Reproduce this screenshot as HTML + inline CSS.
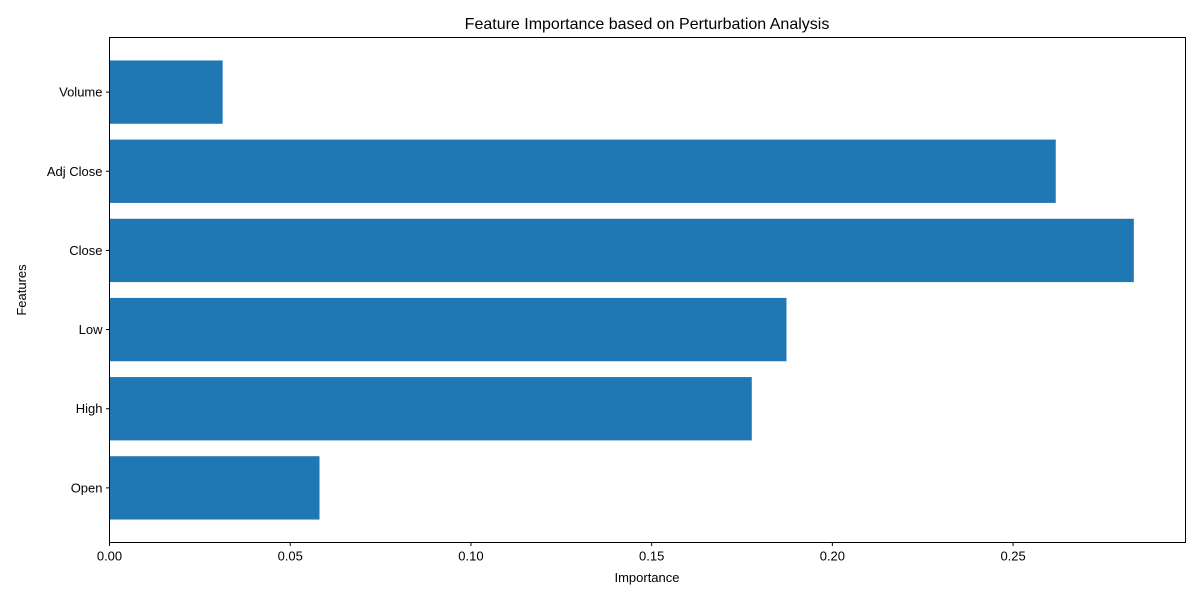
<!DOCTYPE html>
<html><head><meta charset="utf-8"><style>
body{margin:0;background:#fff;}
svg text{font-family:"Liberation Sans","DejaVu Sans",sans-serif;fill:#000;}
</style></head><body>
<svg id="chart" width="1200" height="600">
<rect width="1200" height="600" fill="#fff"/>
<text x="647" y="29" font-size="16" text-anchor="middle">Feature Importance based on Perturbation Analysis</text>
<g id="bars"></g>
<g id="xticks"></g>
<g id="yticks"></g>
<rect x="109.5" y="37.5" width="1076" height="505" fill="none" stroke="#000" stroke-width="1"/>
<text x="647" y="582" font-size="13" text-anchor="middle">Importance</text>
<text x="26" y="290" font-size="13" text-anchor="middle" transform="rotate(-90 26 290)">Features</text>
</svg>
<script>
const categories=["Open","High","Low","Close","Adj Close","Volume"];
const values=[0.0581,0.1777,0.1873,0.2834,0.2618,0.0313];
const xTicks=[0,0.05,0.10,0.15,0.20,0.25];
const xTickLabels=["0.00","0.05","0.10","0.15","0.20","0.25"];
const NS="http://www.w3.org/2000/svg";
const L=109.5,R=1185.5,T=37.5,B=542.5;
const xMin=0,xMax=0.2977;
const yMin=-0.69,yMax=5.69;
const xs=v=>L+(v-xMin)/(xMax-xMin)*(R-L);
const ys=v=>B-(v-yMin)/(yMax-yMin)*(B-T);
const bw=(B-T)/(yMax-yMin)*0.8;
function mk(t,a,p){const e=document.createElementNS(NS,t);for(const k in a)e.setAttribute(k,a[k]);p.appendChild(e);return e;}
const gb=document.getElementById('bars'),gx=document.getElementById('xticks'),gy=document.getElementById('yticks');
categories.forEach((c,i)=>{
 const r=mk('rect',{x:xs(0),y:ys(i)-bw/2,width:xs(values[i])-xs(0),height:bw,fill:'#1f77b4'},gb);
 
 
 const l=mk('line',{x1:L-3.5,x2:L,y1:ys(i),y2:ys(i),stroke:'#000'},gy);
 
 
 const t=mk('text',{x:L-7,y:ys(i)+4.5,'font-size':13,'text-anchor':'end'},gy);
 t.textContent=c;
 
 
});
xTicks.forEach((v,i)=>{
 const l=mk('line',{x1:xs(v),x2:xs(v),y1:B,y2:B+3.5,stroke:'#000'},gx);
 
 
 const t=mk('text',{x:xs(v),y:B+18,'font-size':13,'text-anchor':'middle'},gx);
 t.textContent=xTickLabels[i];
 
 
});
</script>
</body></html>
